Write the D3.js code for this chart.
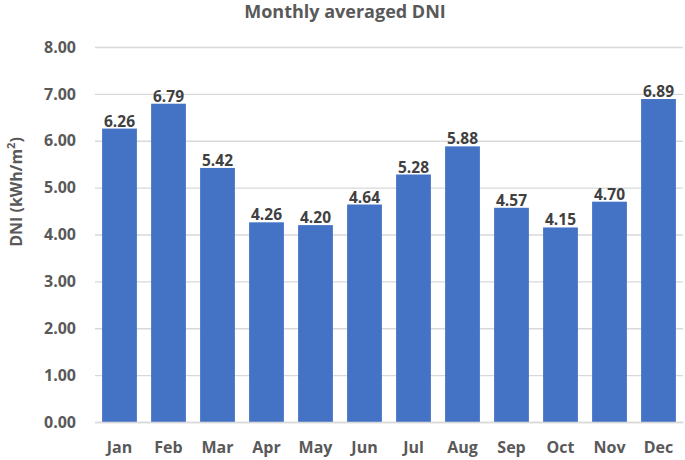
<!DOCTYPE html>
<html><head><meta charset="utf-8">
<script src="https://cdn.jsdelivr.net/npm/d3@7"></script>
<style>body{margin:0;background:#fff;}svg{display:block;}</style>
</head><body>
<svg id="c" width="685" height="460"></svg>
<script>
const months = ["Jan","Feb","Mar","Apr","May","Jun","Jul","Aug","Sep","Oct","Nov","Dec"];
const dni = [6.26,6.79,5.42,4.26,4.20,4.64,5.28,5.88,4.57,4.15,4.70,6.89];
const yTicks = [0,1,2,3,4,5,6,7,8];

const svg = d3.select("#c");
const font = "'Open Sans', sans-serif";
const x = d3.scaleBand().domain(months).range([95,683]).paddingInner(0.29).paddingOuter(0.145);
const y = d3.scaleLinear().domain([0,8]).range([422,47]);

svg.append("rect").attr("width",685).attr("height",460).attr("fill","#fff");

// gridlines
svg.append("g").selectAll("line").data(yTicks).join("line")
  .attr("x1",95).attr("x2",683)
  .attr("y1",d=>y(d)+0.5).attr("y2",d=>y(d)+0.5)
  .attr("stroke","#d9d9d9").attr("stroke-width",1.3);

// y axis labels
const yAxis = d3.axisLeft(y).tickValues(yTicks).tickFormat(d3.format(".2f")).tickSize(0).tickPadding(19);
const ga = svg.append("g").attr("transform","translate(95,0)").call(yAxis);
ga.select(".domain").remove();
ga.selectAll("text").attr("font-family",font).attr("font-weight","bold").attr("font-size","16px").attr("fill","#595959");

// bars
svg.append("g").selectAll("rect").data(dni).join("rect")
  .attr("x",(d,i)=>x(months[i])).attr("width",x.bandwidth())
  .attr("y",d=>y(d)).attr("height",d=>y(0)-y(d))
  .attr("fill","#4472C4");

// data labels
svg.append("g").selectAll("text").data(dni).join("text")
  .attr("x",(d,i)=>x(months[i])+x.bandwidth()/2).attr("y",d=>y(d)-2)
  .attr("text-anchor","middle").attr("font-family",font).attr("font-weight","bold")
  .attr("font-size","15.5px").attr("fill","#404040").text(d=>d.toFixed(2));

// x axis
const xAxis = d3.axisBottom(x).tickSize(0).tickPadding(0);
const gx = svg.append("g").attr("transform","translate(0,422)").call(xAxis);
gx.select(".domain").attr("stroke","#d9d9d9").attr("stroke-width",1.3);
gx.selectAll("text").attr("dy",null).attr("y",31).attr("font-family",font).attr("font-weight","bold").attr("font-size","16px").attr("fill","#595959");

// title
svg.append("text").attr("x",345).attr("y",18).attr("text-anchor","middle")
  .attr("font-family",font).attr("font-weight","bold").attr("font-size","18px").attr("fill","#595959")
  .text("Monthly averaged DNI");

// y label
const yl = svg.append("text").attr("transform","translate(22,192) rotate(-90)").attr("text-anchor","middle")
  .attr("font-family",font).attr("font-weight","bold").attr("font-size","16px").attr("fill","#595959");
yl.append("tspan").text("DNI (kWh/m");
yl.append("tspan").attr("dy",-7).attr("font-size","11px").text("2");
yl.append("tspan").attr("dy",7).text(")");
</script>
</body></html>
